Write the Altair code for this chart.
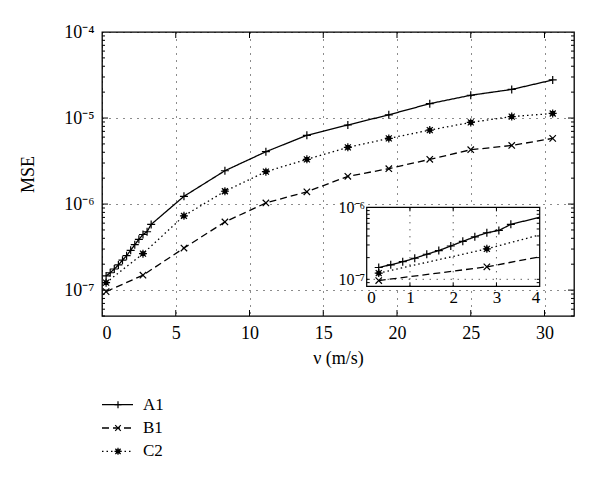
import altair as alt
import pandas as pd

# ---------------- data ----------------
series = ["A1", "B1", "C2"]

a1_v = [0.278, 0.556, 0.833, 1.111, 1.389, 1.667, 1.944, 2.222, 2.5, 2.778, 3.056, 3.333,
        5.556, 8.333, 11.111, 13.889, 16.667, 19.444, 22.222, 25.0, 27.778, 30.556]
a1_mse = [1.46e-7, 1.59e-7, 1.76e-7, 1.96e-7, 2.23e-7, 2.51e-7, 2.90e-7, 3.37e-7, 3.89e-7, 4.43e-7, 4.77e-7, 5.80e-7,
          1.23e-6, 2.44e-6, 4.06e-6, 6.3e-6, 8.3e-6, 1.09e-5, 1.47e-5, 1.84e-5, 2.15e-5, 2.77e-5]

bc_v = [0.278, 2.778, 5.556, 8.333, 11.111, 13.889, 16.667, 19.444, 22.222, 25.0, 27.778, 30.556]
b1_mse = [9.6e-8, 1.49e-7, 3.08e-7, 6.2e-7, 1.03e-6, 1.39e-6, 2.1e-6, 2.58e-6, 3.31e-6, 4.28e-6, 4.8e-6, 5.8e-6]
c2_mse = [1.22e-7, 2.65e-7, 7.3e-7, 1.41e-6, 2.38e-6, 3.31e-6, 4.56e-6, 5.8e-6, 7.24e-6, 8.9e-6, 1.04e-5, 1.13e-5]

x_ticks = [0, 5, 10, 15, 20, 25, 30]
y_ticks = [1e-7, 1e-6, 1e-5, 1e-4]
x_domain = [0, 32]
y_domain = [5e-8, 1e-4]

in_x_ticks = [0, 1, 2, 3, 4]
in_y_ticks = [1e-7, 1e-6]
in_x_domain = [0, 4]
in_y_domain = [8e-8, 1e-6]

# ---------------- layout / style ----------------
W, H = 472, 284
IN_X_RANGE = [264.7, 437.7]
IN_Y_RANGE = [254.3, 175.3]
FONT = "Liberation Serif"
DASHES = [[1, 0], [7, 4], [1.5, 3]]
PLUS = "M-1,0L1,0M0,-1L0,1"
CROSS = "M-0.8,-0.8L0.8,0.8M-0.8,0.8L0.8,-0.8"
STAR = "M-1,0L1,0M0,-1L0,1M-0.75,-0.75L0.75,0.75M-0.75,0.75L0.75,-0.75M-0.45,-0.45L0.45,-0.45L0.45,0.45L-0.45,0.45Z"
SHAPES = [PLUS, CROSS, STAR]
MSIZE = 64

rows = []
for v, m in zip(a1_v, a1_mse):
    rows.append({"series": "A1", "v": v, "mse": m})
for v, m in zip(bc_v, b1_mse):
    rows.append({"series": "B1", "v": v, "mse": m})
for v, m in zip(bc_v, c2_mse):
    rows.append({"series": "C2", "v": v, "mse": m})
df = pd.DataFrame(rows)

label_expr = ("'10' + (round(log(datum.value)/LN10) == -4 ? '⁻⁴' : "
              "round(log(datum.value)/LN10) == -5 ? '⁻⁵' : "
              "round(log(datum.value)/LN10) == -6 ? '⁻⁶' : '⁻⁷')")

dash_enc = alt.StrokeDash("series:N", scale=alt.Scale(domain=series, range=DASHES), legend=None)
shape_enc = alt.Shape("series:N", scale=alt.Scale(domain=series, range=SHAPES), legend=None)

# ---------------- main plot ----------------
xs = alt.Scale(domain=x_domain, nice=False, zero=False)
ys = alt.Scale(type="log", domain=y_domain, nice=False)

x_main = alt.X("v:Q", scale=xs, axis=alt.Axis(
    values=x_ticks, title="ν (m/s)", grid=True, gridDash=[1, 6], gridColor="black",
    gridOpacity=0.9, ticks=False, domain=False, labelPadding=8, titlePadding=7,
    labelFont=FONT, titleFont=FONT, labelFontSize=18, titleFontSize=18))
y_main = alt.Y("mse:Q", scale=ys, axis=alt.Axis(
    values=y_ticks, labelExpr=label_expr, title="MSE", grid=True, gridDash=[1, 6],
    gridColor="black", gridOpacity=0.9, ticks=False, domain=False, labelPadding=8,
    titlePadding=26, labelFont=FONT, titleFont=FONT, labelFontSize=18, titleFontSize=18))

lines = alt.Chart(df).mark_line(color="black", strokeWidth=1.3).encode(
    x=x_main, y=y_main, detail="series:N", strokeDash=dash_enc)
points = alt.Chart(df).mark_point(color="black", strokeWidth=1.2, size=MSIZE, opacity=1).encode(
    x=alt.X("v:Q"), y=alt.Y("mse:Q"), shape=shape_enc)

minor = [m * 10.0 ** e for e in range(-8, -4) for m in range(2, 10)]
minor = [t for t in minor if y_domain[0] <= t <= y_domain[1]]
xt_df = pd.DataFrame({"v": x_ticks[1:]})
yt_df = pd.DataFrame({"mse": y_ticks[:-1]})
ym_df = pd.DataFrame({"mse": minor})

tick_bottom = alt.Chart(xt_df).mark_rule(color="black", y2Offset=-6).encode(
    x="v:Q", y=alt.datum(y_domain[0]), y2=alt.datum(y_domain[0]))
tick_top = alt.Chart(xt_df).mark_rule(color="black", y2Offset=6).encode(
    x="v:Q", y=alt.datum(y_domain[1]), y2=alt.datum(y_domain[1]))
tick_left = alt.Chart(yt_df).mark_rule(color="black", x2Offset=6).encode(
    y="mse:Q", x=alt.datum(x_domain[0]), x2=alt.datum(x_domain[0]))
tick_right = alt.Chart(yt_df).mark_rule(color="black", x2Offset=-6).encode(
    y="mse:Q", x=alt.datum(x_domain[1]), x2=alt.datum(x_domain[1]))
mtick_left = alt.Chart(ym_df).mark_rule(color="black", x2Offset=3).encode(
    y="mse:Q", x=alt.datum(x_domain[0]), x2=alt.datum(x_domain[0]))
mtick_right = alt.Chart(ym_df).mark_rule(color="black", x2Offset=-3).encode(
    y="mse:Q", x=alt.datum(x_domain[1]), x2=alt.datum(x_domain[1]))

main = alt.layer(lines, points, tick_bottom, tick_top, tick_left, tick_right,
                 mtick_left, mtick_right)

# ---------------- inset ----------------
ixs = alt.Scale(domain=in_x_domain, range=IN_X_RANGE, nice=False, zero=False)
iys = alt.Scale(type="log", domain=in_y_domain, range=IN_Y_RANGE, nice=False)

frame_df = pd.DataFrame({"x0": [in_x_domain[0]], "x1": [in_x_domain[1]],
                         "y0": [in_y_domain[0]], "y1": [in_y_domain[1]]})
frame = alt.Chart(frame_df).mark_rect(fill="white", stroke="black", strokeWidth=1.2).encode(
    x=alt.X("x0:Q", scale=ixs, axis=alt.Axis(
        values=in_x_ticks, format="d", orient="bottom", offset=-(H - IN_Y_RANGE[0]),
        domain=False, ticks=False, grid=False, title=None, labelPadding=3,
        labelFont=FONT, labelFontSize=17)),
    x2="x1:Q",
    y=alt.Y("y0:Q", scale=iys, axis=alt.Axis(
        values=in_y_ticks, labelExpr=label_expr, orient="left", offset=-IN_X_RANGE[0],
        domain=False, ticks=False, grid=False, title=None, labelPadding=2,
        labelFont=FONT, labelFontSize=16)),
    y2="y1:Q")

igx_df = pd.DataFrame({"x0": [1, 2, 3]})
igrid_x = alt.Chart(igx_df).mark_rule(color="black", strokeDash=[1, 6], opacity=0.9).encode(
    x="x0:Q", y=alt.datum(in_y_domain[0]), y2=alt.datum(in_y_domain[1]))
igy_df = pd.DataFrame({"y0": [1e-7]})
igrid_y = alt.Chart(igy_df).mark_rule(color="black", strokeDash=[1, 6], opacity=0.9).encode(
    y="y0:Q", x=alt.datum(in_x_domain[0]), x2=alt.datum(in_x_domain[1]))

iminor = [m * 10.0 ** e for e in range(-8, -6) for m in range(1, 10)]
iminor = [t for t in iminor if in_y_domain[0] < t < in_y_domain[1]]
iym_df = pd.DataFrame({"y0": iminor})
ixt_df = pd.DataFrame({"x0": [1, 2, 3]})
itick_b = alt.Chart(ixt_df).mark_rule(color="black", y2Offset=-4).encode(
    x="x0:Q", y=alt.datum(in_y_domain[0]), y2=alt.datum(in_y_domain[0]))
itick_t = alt.Chart(ixt_df).mark_rule(color="black", y2Offset=4).encode(
    x="x0:Q", y=alt.datum(in_y_domain[1]), y2=alt.datum(in_y_domain[1]))
itick_l = alt.Chart(iym_df).mark_rule(color="black", x2Offset=3).encode(
    y="y0:Q", x=alt.datum(in_x_domain[0]), x2=alt.datum(in_x_domain[0]))
itick_r = alt.Chart(iym_df).mark_rule(color="black", x2Offset=-3).encode(
    y="y0:Q", x=alt.datum(in_x_domain[1]), x2=alt.datum(in_x_domain[1]))

iseg = alt.Chart(df).transform_window(
    window=[{"op": "lead", "field": "v", "as": "nv"},
            {"op": "lead", "field": "mse", "as": "nm"}],
    groupby=["series"], sort=[{"field": "v"}],
    frame=[None, None]
).transform_filter(
    "datum.nv != null && datum.v < %g" % in_x_domain[1]
).transform_calculate(
    ve="min(datum.nv, %g)" % in_x_domain[1]
).transform_calculate(
    me="exp(log(datum.mse) + (datum.ve - datum.v) / (datum.nv - datum.v) * (log(datum.nm) - log(datum.mse)))"
).mark_rule(color="black", strokeWidth=1.3).encode(
    x=alt.X("v:Q"), x2="ve:Q", y=alt.Y("mse:Q"), y2="me:Q", strokeDash=dash_enc)

ipoints = alt.Chart(df).transform_filter(
    "datum.v <= %g" % in_x_domain[1]
).mark_point(color="black", strokeWidth=1.2, size=MSIZE, opacity=1).encode(
    x=alt.X("v:Q"), y=alt.Y("mse:Q"), shape=shape_enc)

inset = alt.layer(frame, igrid_x, igrid_y, itick_b, itick_t, itick_l, itick_r, iseg, ipoints)

main_chart = alt.layer(main, inset).resolve_scale(
    x="independent", y="independent", strokeDash="shared", shape="shared"
).properties(width=W, height=H, view=alt.ViewBackground(stroke="black", strokeWidth=1.3))

# ---------------- legend ----------------
leg_df = pd.DataFrame({"series": series})
leg_y = alt.Y("series:N", sort=series, axis=None, scale=alt.Scale(domain=series))
leg_line = alt.Chart(leg_df).mark_rule(color="black", strokeWidth=1.3).encode(
    x=alt.value(0), x2=alt.value(31), y=leg_y, strokeDash=dash_enc)
leg_pt = alt.Chart(leg_df).mark_point(color="black", strokeWidth=1.2, size=49, opacity=1).encode(
    x=alt.value(16), y=leg_y, shape=shape_enc)
leg_txt = alt.Chart(leg_df).mark_text(align="left", baseline="middle", font=FONT,
                                      fontSize=17, color="black").encode(
    x=alt.value(41), y=leg_y, text="series:N")
legend = alt.layer(leg_line, leg_pt, leg_txt).properties(
    width=60, height=70, view=alt.ViewBackground(stroke="transparent"))

chart = alt.vconcat(main_chart, legend, spacing=24).properties(
    padding={"left": 11, "top": 14, "right": 5, "bottom": 5}
).configure(background="white").configure_axis(
    labelFont=FONT, labelColor="black",
    titleFont=FONT, titleFontWeight="normal", titleColor="black"
)

chart.save("out.html", embed_options={"renderer": "svg", "actions": False})
